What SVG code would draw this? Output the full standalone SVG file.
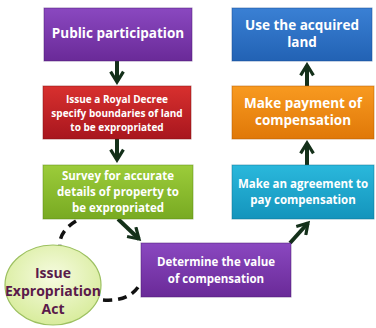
<svg xmlns="http://www.w3.org/2000/svg" width="376" height="328" viewBox="0 0 376 328">
<defs>
<linearGradient id="gP" x1="0" y1="0" x2="0" y2="1"><stop offset="0" stop-color="#8a48c0"/><stop offset="1" stop-color="#6a2a98"/></linearGradient>
<linearGradient id="gR" x1="0" y1="0" x2="0" y2="1"><stop offset="0" stop-color="#d8302e"/><stop offset="1" stop-color="#a8161e"/></linearGradient>
<linearGradient id="gG" x1="0" y1="0" x2="0" y2="1"><stop offset="0" stop-color="#9ccc3a"/><stop offset="1" stop-color="#78aa22"/></linearGradient>
<linearGradient id="gC" x1="0" y1="0" x2="0" y2="1"><stop offset="0" stop-color="#2ab8dc"/><stop offset="1" stop-color="#1494bc"/></linearGradient>
<linearGradient id="gO" x1="0" y1="0" x2="0" y2="1"><stop offset="0" stop-color="#f89a20"/><stop offset="1" stop-color="#e07808"/></linearGradient>
<linearGradient id="gB" x1="0" y1="0" x2="0" y2="1"><stop offset="0" stop-color="#3a80d4"/><stop offset="1" stop-color="#2262b4"/></linearGradient>
<radialGradient id="gE" cx="0.5" cy="0.4" r="0.6"><stop offset="0" stop-color="#f6fbe0"/><stop offset="1" stop-color="#d8ec9c"/></radialGradient>
<marker id="ah" viewBox="0 0 10 10" refX="8" refY="5" markerWidth="4" markerHeight="4" orient="auto" markerUnits="strokeWidth">
<path d="M1.5,1 L8,5 L1.5,9" fill="none" stroke="#14301a" stroke-width="2"/>
</marker>
</defs>
<style>
.box{stroke-width:1;stroke-opacity:0.5}
.t{font-family:"Open Sans","Liberation Sans",sans-serif;font-weight:bold;fill:#fff;text-anchor:middle}
.t1{font-size:13.5px}
.t2{font-size:10px}
.t3{font-size:11.5px}
.conn{stroke:#14301a;stroke-width:4;fill:none}
.dash{stroke:#111;stroke-width:3.5;fill:none;stroke-dasharray:9 6}
.et{font-family:"Open Sans","Liberation Sans",sans-serif;font-weight:bold;fill:#5a1a4a;text-anchor:middle;font-size:14px}
</style>
<rect width="376" height="328" fill="#fff"/>
<g id="connectors">
<line class="conn" x1="117" y1="61" x2="117" y2="82" marker-end="url(#ah)"/>
<line class="conn" x1="117" y1="139" x2="117" y2="160" marker-end="url(#ah)"/>
<line class="conn" x1="118" y1="219" x2="139" y2="239" marker-end="url(#ah)"/>
<line class="conn" x1="290" y1="243" x2="308" y2="223" marker-end="url(#ah)"/>
<line class="conn" x1="307" y1="165" x2="307" y2="143" marker-end="url(#ah)"/>
<line class="conn" x1="307" y1="86" x2="307" y2="65" marker-end="url(#ah)"/>
<path class="dash" d="M76,221 Q58,232 60,248"/>
<path class="dash" d="M103,300 Q130,302 140,284"/>
</g>
<g id="n1"><rect class="box" x="44" y="8" width="148" height="53" fill="url(#gP)" stroke="#4a1a70"/><text class="t t1" x="118" y="38">Public participation</text></g>
<g id="n2"><rect class="box" x="43" y="86" width="148" height="53" fill="url(#gR)" stroke="#801010"/><text class="t t2" x="117" y="103">Issue a Royal Decree</text><text class="t t2" x="117" y="117">specify boundaries of land</text><text class="t t2" x="117" y="131">to be expropriated</text></g>
<g id="n3"><rect class="box" x="43" y="165" width="150" height="54" fill="url(#gG)" stroke="#5a8a10"/><text class="t t3" x="118" y="180">Survey for accurate</text><text class="t t3" x="118" y="196">details of property to</text><text class="t t3" x="118" y="212">be expropriated</text></g>
<g id="n4"><rect class="box" x="141" y="243" width="150" height="54" fill="url(#gP)" stroke="#4a1a70"/><text class="t t3" x="216" y="266">Determine the value</text><text class="t t3" x="216" y="283">of compensation</text></g>
<g id="n5"><rect class="box" x="232" y="165" width="142" height="54" fill="url(#gC)" stroke="#0c7090"/><text class="t t3" x="303" y="188">Make an agreement to</text><text class="t t3" x="303" y="204">pay compensation</text></g>
<g id="n6"><rect class="box" x="232" y="86" width="142" height="53" fill="url(#gO)" stroke="#b05a00"/><text class="t t1" x="303" y="108">Make payment of</text><text class="t t1" x="303" y="125">compensation</text></g>
<g id="n7"><rect class="box" x="232" y="8" width="140" height="53" fill="url(#gB)" stroke="#164a90"/><text class="t t1" x="302" y="30">Use the acquired</text><text class="t t1" x="302" y="47">land</text></g>
<g id="n8"><ellipse cx="53" cy="285" rx="48" ry="40" fill="url(#gE)" stroke="#9cc060" stroke-width="1.2"/><text class="et" x="53" y="278">Issue</text><text class="et" x="53" y="296">Expropriation</text><text class="et" x="53" y="314">Act</text></g>
</svg>
